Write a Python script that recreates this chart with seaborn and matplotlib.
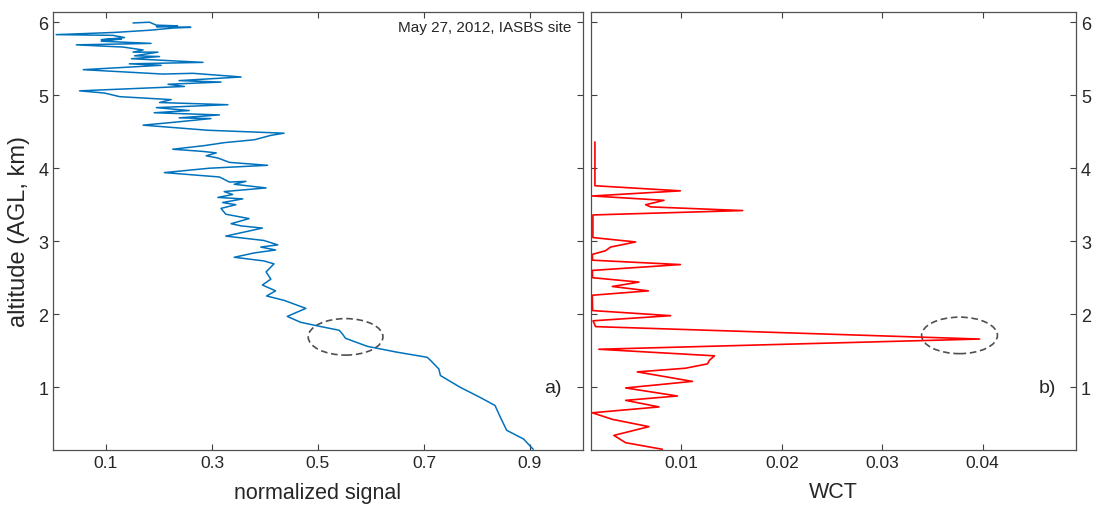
import numpy as np
import pandas as pd
import seaborn as sns
import matplotlib.pyplot as plt
from matplotlib.patches import Ellipse

# left panel: normalized lidar signal vs altitude
signal = [0.151, 0.182, 0.195, 0.235, 0.195, 0.260, 0.226, 0.182, 0.116, 0.006,
          0.113, 0.135, 0.091, 0.129, 0.091, 0.185, 0.044, 0.132, 0.170, 0.151,
          0.198, 0.154, 0.201, 0.148, 0.283, 0.144, 0.204, 0.057, 0.207, 0.264,
          0.355, 0.238, 0.317, 0.217, 0.248, 0.050, 0.097, 0.126, 0.223, 0.201,
          0.330, 0.195, 0.257, 0.191, 0.314, 0.238, 0.298, 0.229, 0.170, 0.292,
          0.436, 0.411, 0.380, 0.323, 0.286, 0.226, 0.283, 0.308, 0.289, 0.311,
          0.333, 0.405, 0.295, 0.210, 0.314, 0.333, 0.364, 0.342, 0.402, 0.323,
          0.339, 0.311, 0.358, 0.320, 0.345, 0.317, 0.326, 0.370, 0.336, 0.355,
          0.395, 0.326, 0.398, 0.424, 0.392, 0.420, 0.380, 0.342, 0.398, 0.417,
          0.402, 0.411, 0.395, 0.420, 0.403, 0.436, 0.477, 0.442, 0.467, 0.499,
          0.540, 0.546, 0.552, 0.593, 0.649, 0.706, 0.712, 0.728, 0.731, 0.768,
          0.806, 0.834, 0.844, 0.856, 0.888, 0.906]
signal_alt = [5.99, 6.00, 5.96, 5.95, 5.94, 5.93, 5.92, 5.89, 5.86, 5.83,
              5.82, 5.79, 5.76, 5.77, 5.74, 5.71, 5.69, 5.66, 5.62, 5.59,
              5.59, 5.54, 5.53, 5.50, 5.45, 5.43, 5.41, 5.35, 5.29, 5.30,
              5.25, 5.20, 5.18, 5.15, 5.12, 5.06, 5.03, 4.98, 4.94, 4.90,
              4.87, 4.83, 4.79, 4.76, 4.73, 4.69, 4.68, 4.63, 4.59, 4.52,
              4.48, 4.45, 4.39, 4.35, 4.31, 4.26, 4.23, 4.21, 4.17, 4.14,
              4.08, 4.04, 4.00, 3.94, 3.88, 3.81, 3.82, 3.78, 3.73, 3.68,
              3.64, 3.60, 3.58, 3.53, 3.50, 3.45, 3.37, 3.31, 3.24, 3.21,
              3.18, 3.07, 3.01, 2.95, 2.92, 2.88, 2.84, 2.78, 2.73, 2.69,
              2.58, 2.48, 2.40, 2.32, 2.25, 2.19, 2.08, 1.97, 1.89, 1.84,
              1.78, 1.73, 1.67, 1.56, 1.48, 1.41, 1.37, 1.25, 1.16, 1.00,
              0.86, 0.75, 0.59, 0.41, 0.29, 0.15]

# right panel: wavelet covariance transform
wct = [0.00139, 0.00139, 0.0099, 0.00113, 0.00827, 0.00644, 0.00694, 0.0161,
       0.00119, 0.00119, 0.00544, 0.00295, 0.00245, 0.00113, 0.00116, 0.0099,
       0.00113, 0.00116, 0.00577, 0.00312, 0.00671, 0.00113, 0.00116, 0.00893,
       0.0012, 0.00146, 0.0397, 0.00178, 0.0133, 0.0128, 0.0126, 0.0104,
       0.00561, 0.0111, 0.00445, 0.0096, 0.00445, 0.00777, 0.00113, 0.00312,
       0.00677, 0.00328, 0.00445, 0.0081]
wct_alt = [4.36, 3.76, 3.69, 3.62, 3.56, 3.50, 3.47, 3.42,
           3.36, 3.05, 2.99, 2.92, 2.87, 2.82, 2.74, 2.68,
           2.60, 2.50, 2.44, 2.38, 2.32, 2.26, 2.05, 1.98,
           1.91, 1.83, 1.66, 1.52, 1.43, 1.37, 1.32, 1.26,
           1.21, 1.08, 0.99, 0.88, 0.82, 0.73, 0.65, 0.56,
           0.46, 0.34, 0.24, 0.15]

sig_ticks = [0.1, 0.3, 0.5, 0.7, 0.9]
wct_ticks = [0.01, 0.02, 0.03, 0.04]
alt_ticks = [1, 2, 3, 4, 5, 6]

sns.set_style('ticks')
plt.rcParams['font.family'] = ['Liberation Sans', 'DejaVu Sans']

fig = plt.figure(figsize=(10.99, 5.06), dpi=100)
ax1 = fig.add_axes([53 / 1099, 1 - 451 / 506, 530 / 1099, 438 / 506])
ax2 = fig.add_axes([591 / 1099, 1 - 451 / 506, 485 / 1099, 438 / 506])

df1 = pd.DataFrame({'signal': signal, 'alt': signal_alt})
df2 = pd.DataFrame({'wct': wct, 'alt': wct_alt})

sns.lineplot(data=df1, x='signal', y='alt', sort=False, estimator=None,
             orient='y', ax=ax1, color='#0072BD', lw=1.1)
sns.lineplot(data=df2, x='wct', y='alt', sort=False, estimator=None,
             orient='y', ax=ax2, color='red', lw=1.2)

ax1.set_xlim(0, 1)
ax2.set_xlim(0.001, 0.0493)
for ax in (ax1, ax2):
    ax.set_ylim(0.14, 6.14)
    ax.set_yticks(alt_ticks)
    ax.set_yticklabels([str(t) for t in alt_ticks])
    ax.tick_params(direction='in', top=True, right=True, length=4,
                   labelsize=13, color='#404040', labelcolor='#262626', width=0.8)
    for s in ax.spines.values():
        s.set_color('#505050')
        s.set_linewidth(0.9)

ax1.set_xticks(sig_ticks)
ax1.set_xticklabels([f'{t:.1f}' for t in sig_ticks])
ax2.set_xticks(wct_ticks)
ax2.set_xticklabels([f'{t:.2f}' for t in wct_ticks])
ax1.tick_params(axis='x', labelsize=12.5)
ax2.tick_params(axis='x', labelsize=12.5)
ax2.tick_params(labelleft=False, labelright=True)

ax1.set_xlabel('normalized signal', fontsize=15.5, labelpad=9)
ax1.set_ylabel('altitude (AGL, km)', fontsize=17, labelpad=6)
ax2.set_xlabel('WCT', fontsize=15.5, labelpad=8)
ax2.set_ylabel('')

ax1.add_patch(Ellipse((0.552, 1.69), 0.141, 0.50, fill=False, ls=(0, (4, 2.2)),
                      ec='#505050', lw=1.2))
ax2.add_patch(Ellipse((0.0377, 1.71), 0.00755, 0.50, fill=False, ls=(0, (4, 2.2)),
                      ec='#505050', lw=1.2))

ax1.text(0.979, 0.966, 'May 27, 2012, IASBS site', transform=ax1.transAxes,
         ha='right', va='center', fontsize=11)
ax1.text(0.943, 0.142, 'a)', transform=ax1.transAxes, ha='center', va='center', fontsize=14)
ax2.text(0.942, 0.142, 'b)', transform=ax2.transAxes, ha='center', va='center', fontsize=14)

fig.savefig('out.png', dpi=100)
